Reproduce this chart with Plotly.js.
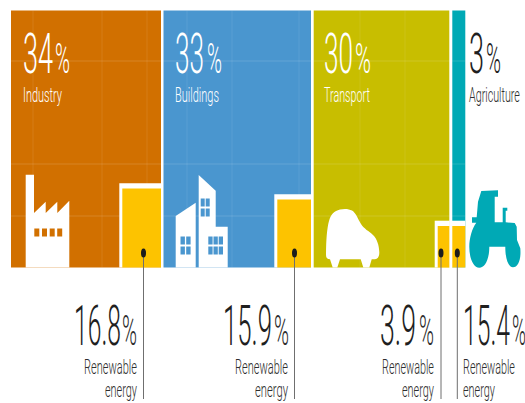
<!DOCTYPE html>
<html>
<head>
<meta charset="utf-8">
<script src="https://cdn.plot.ly/plotly-3.0.1.min.js"></script>
<style>html,body{margin:0;padding:0;background:#fff;overflow:hidden}</style>
</head>
<body>
<div id="chart" style="width:525px;height:403px"></div>
<script>
// ---- data ----
const categories = ['Industry', 'Buildings', 'Transport', 'Agriculture'];
const shares = [34, 33, 30, 3];
const renewable = [16.8, 15.9, 3.9, 15.4];
const sectorColors = ['#D17000', '#4A96CF', '#C8BE00', '#00A9B5'];
const sectorLeft = [11, 163.5, 313.7, 452.3];
const sectorRight = [161, 311, 449.3, 465.3];
const renewLeft = [122.3, 277.3, 437.7, 452.3];
const renewHeight = [79, 68, 41.5, 41.5];
const leaderX = [143.5, 294.5, 441, 457.3];
const gridX = [33, 102, 147, 187, 232, 299, 360, 405];
const gridY = [61, 164, 216];

const TOP = 10.5, BASE = 267.5, PAD_TOP = 5.3, PAD_LEFT = 3;
const mid = (a, b) => (a + b) / 2;
const traces = [];

traces.push({type: 'bar', x: sectorLeft.map((l, i) => mid(l, sectorRight[i])),
  width: sectorLeft.map((l, i) => sectorRight[i] - l), y: sectorLeft.map(() => BASE - TOP),
  base: sectorLeft.map(() => TOP), marker: {color: sectorColors, line: {width: 0}}, hoverinfo: 'skip'});
gridX.forEach(x => traces.push({type: 'scatter', mode: 'lines', x: [x, x], y: [TOP, BASE],
  line: {color: 'rgba(255,255,255,0.09)', width: 1}, hoverinfo: 'skip'}));
gridY.forEach(y => traces.push({type: 'scatter', mode: 'lines', x: [11, 465.3], y: [y, y],
  line: {color: 'rgba(255,255,255,0.14)', width: 1}, hoverinfo: 'skip'}));
// overlay subplot so the renewable share sits over the grid lines
const halo = renewLeft.map(l => l - PAD_LEFT);
traces.push({type: 'bar', xaxis: 'x2', yaxis: 'y2',
  x: halo.map((l, i) => mid(l, sectorRight[i])), width: halo.map((l, i) => sectorRight[i] - l),
  y: renewHeight.map(h => h + PAD_TOP), base: renewHeight.map(h => BASE - h - PAD_TOP),
  marker: {color: '#ffffff', line: {width: 0}}, hoverinfo: 'skip'});
traces.push({type: 'bar', xaxis: 'x2', yaxis: 'y2',
  x: renewLeft.map((l, i) => mid(l, sectorRight[i])), width: renewLeft.map((l, i) => sectorRight[i] - l),
  y: renewHeight, base: renewHeight.map(h => BASE - h),
  marker: {color: '#FDC300', line: {width: 0}}, hoverinfo: 'skip'});
leaderX.forEach(x => traces.push({type: 'scatter', mode: 'lines', xaxis: 'x2', yaxis: 'y2',
  x: [x, x], y: [253, 399], line: {color: '#6f6f6f', width: 1}, hoverinfo: 'skip'}));

// ---- pictograms ----
const fill = (path, color) => ({type: 'path', path, fillcolor: color, line: {width: 0}, xref: 'x', yref: 'y', layer: 'above'});
const box = (x0, y0, x1, y1, color) => fill(`M${x0},${y0}H${x1}V${y1}H${x0}Z`, color);
const grid2 = (xs, w, ys, h, color) => xs.flatMap(x => ys.map(y => box(x, y, x + w, y + h, color)));
const shapes = [];
// factory
shapes.push(fill('M25.7,174.7H34V213L45.7,201.7V213L57.3,201.7V213L69.3,200.7V267.5H25.7Z', '#fff'));
shapes.push(...grid2([34.3, 42, 49.7, 57.2], 5, [228.5], 8, '#D17000'));
// buildings
shapes.push(fill('M175.7,267.5V216L195.7,202.7V267.5Z', '#fff'));
shapes.push(fill('M198.7,267.5V175L215.7,190.7V226.7H227.7V267.5Z', '#fff'));
shapes.push(...grid2([200.7, 205.7], 4, [198.5, 208.5], 8, '#4A96CF'));
shapes.push(...grid2([180.5, 186.2], 4.4, [236.5, 246.5], 8, '#4A96CF'));
shapes.push(...grid2([208.3, 213.5, 218.7], 4.3, [236.5, 246.5], 8, '#4A96CF'));
// car
shapes.push(fill('M326,255C326,240 327,228 329,221C331,214 334,211 340,209.5C345,208.5 349,209 352,210.5C356,213 358,219 361,224C364,229 369,231 373,235C377,239 379,245 379.3,252C379.5,256 378,259 375,259.3L371.7,259.3L369.3,267.5H363.3L360.7,259.3H340L337.3,267.5H332.7L330,259.3C327.5,259 326,258 326,255Z', '#fff'));
// tractor
const T = (x, y) => `${(462 + x / 3).toFixed(1)},${(185 + y / 3).toFixed(1)}`;
shapes.push(fill(`M${T(58,18)}L${T(108,16)}V${(185+35/3).toFixed(1)}H${(462+98/3).toFixed(1)}V${(185+112/3).toFixed(1)}H${(462+122/3).toFixed(1)}V${(185+68/3).toFixed(1)}H${(462+136/3).toFixed(1)}V${(185+77/3).toFixed(1)}H${(462+131/3).toFixed(1)}V${(185+112/3).toFixed(1)}L${T(158,114)}L${T(164,125)}L${T(165,165)}L${T(175,190)}C${T(178,225)} ${T(168,247)} ${T(153,247)}C${T(140,247)} ${T(130,225)} ${T(130,185)}H${(462+82/3).toFixed(1)}C${T(82,225)} ${T(68,248)} ${T(52,248)}C${T(34,248)} ${T(22,220)} ${T(22,185)}C${T(22,160)} ${T(30,130)} ${T(43,113)}H${(462+30/3).toFixed(1)}V${(185+97/3).toFixed(1)}H${(462+44/3).toFixed(1)}L${T(48,50)}Z`, '#00A9B5'));
// leader dots
leaderX.forEach(x => shapes.push({type: 'circle', xref: 'x', yref: 'y', x0: x - 2.5, x1: x + 2.5, y0: 248.5, y1: 257.5,
  fillcolor: '#1c1c1c', line: {width: 0}, layer: 'above'}));

// ---- text: [string, left, right, baseline, size, colour] ----
const WHITE = '#ffffff', DARK = '#2e2e2e', NUM = '#1f1f1f';
const shareX = [[23, 53, 55, 70], [175, 204, 207, 222], [324, 353, 355, 371], [469, 484, 486, 501]];
const nameX = [[23, 62], [175, 219], [324, 370], [469, 520]];
const renewX = [[74, 121, 122, 137], [223, 272, 274, 289], [380, 416, 419, 434], [463, 510, 512, 526]];
const rLabelX = [[84, 137, 105, 137], [235, 288, 255, 288], [382, 434, 402, 434], [463, 515, 463, 495]];
const texts = [];
categories.forEach((c, i) => {
  const col = i === 3 ? NUM : WHITE;
  texts.push([String(shares[i]), shareX[i][0], shareX[i][1], 73, 56, col]);
  texts.push(['%', shareX[i][2], shareX[i][3], 73, 42, col]);
  texts.push([c, nameX[i][0], nameX[i][1], 102, 21, i === 3 ? DARK : WHITE]);
  texts.push([renewable[i].toFixed(1), renewX[i][0], renewX[i][1], 345, 56, NUM]);
  texts.push(['%', renewX[i][2], renewX[i][3], 345, 42, DARK]);
  texts.push(['Renewable', rLabelX[i][0], rLabelX[i][1], 374, 21, DARK]);
  texts.push(['energy', rLabelX[i][2], rLabelX[i][3], 397, 21, DARK]);
});
const annotations = texts.map(t => ({text: t[0], x: t[1], y: t[3], xref: 'x', yref: 'y', xanchor: 'left', yanchor: 'bottom',
  showarrow: false, borderpad: 0, borderwidth: 0, font: {family: 'Roboto, Liberation Sans', size: t[4], color: t[5], weight: 300}}));

const hidden = {visible: false, fixedrange: true, showgrid: false, zeroline: false};
const layout = {
  width: 525, height: 403, margin: {l: 0, r: 0, t: 0, b: 0}, showlegend: false,
  paper_bgcolor: '#fff', plot_bgcolor: '#fff', barmode: 'overlay',
  xaxis: {...hidden, range: [0, 525]}, yaxis: {...hidden, range: [403, 0]},
  xaxis2: {...hidden, range: [0, 525], overlaying: 'x'}, yaxis2: {...hidden, range: [403, 0], overlaying: 'y'},
  shapes, annotations
};
Plotly.newPlot('chart', traces, layout, {displayModeBar: false, staticPlot: true}).then(gd => {
  // condense each label to the narrow measure of the original
  const root = gd.getBoundingClientRect();
  gd.querySelectorAll('.annotation').forEach((g, i) => {
    const el = g.querySelector('text'); if (!el) return;
    const t = texts[i], bb = el.getBBox(), r = el.getBoundingClientRect();
    const s = (t[2] - t[1]) / r.width;
    const localLeft = bb.x + (t[1] - (r.left - root.left));
    const baseLocal = parseFloat(el.getAttribute('y')) || 0;
    const curBase = (r.top - root.top) + (baseLocal - bb.y);
    const dy = t[3] - curBase;
    el.setAttribute('transform', `translate(${localLeft},${dy}) scale(${s},1) translate(${-bb.x},0)`);
  });
});
</script>
</body>
</html>
